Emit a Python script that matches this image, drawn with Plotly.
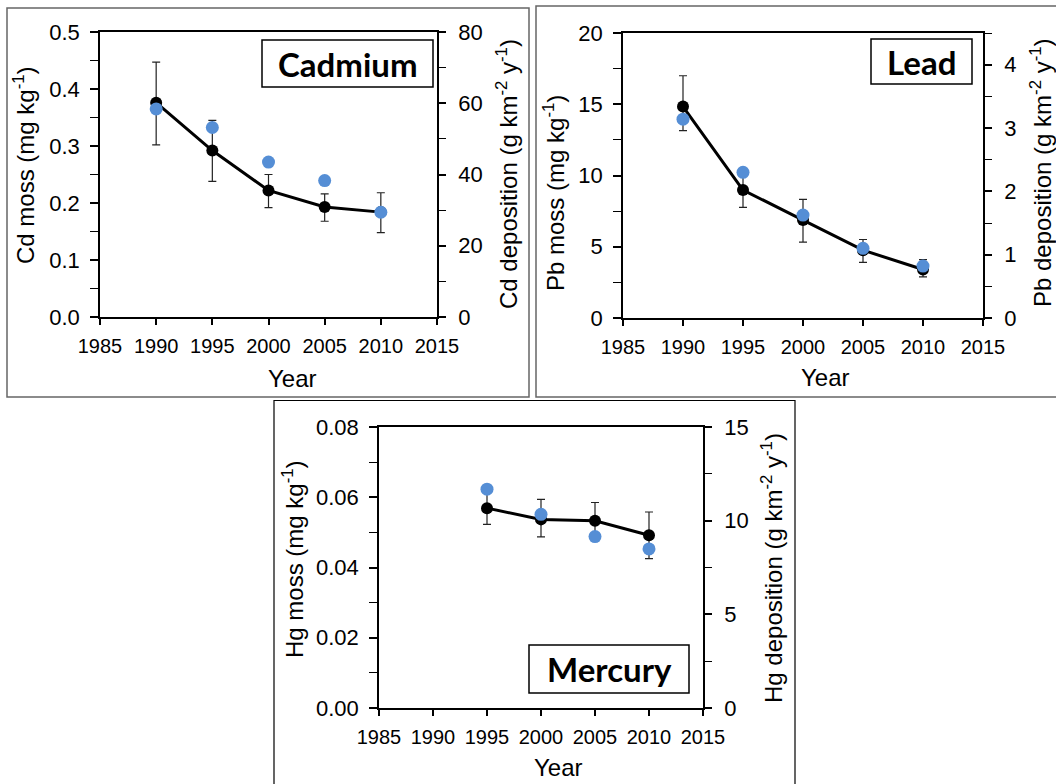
import plotly.graph_objects as go

# ---------------- data ----------------
years_5 = [1990, 1995, 2000, 2005, 2010]
years_4 = [1995, 2000, 2005, 2010]

cd_moss = [0.376, 0.292, 0.222, 0.193, 0.184]
cd_moss_err_up = [0.071, 0.053, 0.028, 0.023, 0.034]
cd_moss_err_dn = [0.074, 0.054, 0.030, 0.025, 0.036]
cd_dep = [58.4, 53.2, 43.5, 38.3, 29.4]

pb_moss = [14.84, 8.98, 6.87, 4.76, 3.40]
pb_moss_err_up = [2.16, 1.20, 1.46, 0.75, 0.70]
pb_moss_err_dn = [1.69, 1.22, 1.55, 0.86, 0.52]
pb_dep = [3.14, 2.30, 1.625, 1.10, 0.82]

hg_moss = [0.0569, 0.0537, 0.0533, 0.0492]
hg_moss_err_up = [0.0046, 0.0057, 0.0052, 0.0066]
hg_moss_err_dn = [0.0046, 0.0050, 0.0045, 0.0067]
hg_dep = [11.68, 10.34, 9.15, 8.49]

x_ticks = [1985, 1990, 1995, 2000, 2005, 2010, 2015]

W, H = 1056, 784
def px(x):
    return x / W
def py(y):
    return 1 - y / H

FONT = "Liberation Sans, Arial, sans-serif"
BLUE = "#558ED5"

fig = go.Figure()

panels = [
    dict(name="Cd", years=years_5, moss=cd_moss, up=cd_moss_err_up, dn=cd_moss_err_dn, dep=cd_dep,
         plot=(100, 437, 32, 317), yl=(0, 0.5, 0.1, 0.05, ".1f"), yr=(0, 80, 20, 10),
         ltitle="Cd moss (mg kg<sup>-1</sup>)", rtitle="Cd deposition (g km<sup>-2</sup> y<sup>-1</sup>)",
         ltx=24, lty=165, rtx=507, rty=174, yearx=292, yeary=378,
         label="Cadmium", box=(262, 433, 40, 87)),
    dict(name="Pb", years=years_5, moss=pb_moss, up=pb_moss_err_up, dn=pb_moss_err_dn, dep=pb_dep,
         plot=(623, 983, 33, 318), yl=(0, 20, 5, 2.5, "d"), yr=(0, 4.5, 1, 0.5),
         ltitle="Pb moss (mg kg<sup>-1</sup>)", rtitle="Pb deposition (g km<sup>-2</sup> y<sup>-1</sup>)",
         ltx=554, lty=193, rtx=1041, rty=173, yearx=825, yeary=377,
         label="Lead", box=(871, 972, 39, 84)),
    dict(name="Hg", years=years_4, moss=hg_moss, up=hg_moss_err_up, dn=hg_moss_err_dn, dep=hg_dep,
         plot=(379, 703, 427, 708), yl=(0, 0.08, 0.02, 0.01, ".2f"), yr=(0, 15, 5, 2.5),
         ltitle="Hg moss (mg kg<sup>-1</sup>)", rtitle="Hg deposition (g km<sup>-2</sup> y<sup>-1</sup>)",
         ltx=293, lty=559, rtx=772, rty=568, yearx=558, yeary=767,
         label="Mercury", box=(529, 689, 645, 693)),
]

annotations = []
shapes = []

# outer panel frames
shapes.append(dict(type="rect", xref="paper", yref="paper", x0=px(7), x1=px(529), y0=py(397), y1=py(8),
                   line=dict(color="#666666", width=1.5)))
shapes.append(dict(type="rect", xref="paper", yref="paper", x0=px(536), x1=px(1070), y0=py(397), y1=py(6),
                   line=dict(color="#666666", width=1.5)))
shapes.append(dict(type="rect", xref="paper", yref="paper", x0=px(274), x1=px(795), y0=py(800), y1=py(400.5),
                   line=dict(color="#000000", width=1.2)))

TICK_X = 20
TICK_Y = 22
TITLE = 24

layout_axes = {}
for i, p in enumerate(panels):
    xa = "x" if i == 0 else f"x{i+1}"
    ya_l = f"y{2*i+1}" if i > 0 else "y"
    ya_r = f"y{2*i+2}"
    xkey = "xaxis" if i == 0 else f"xaxis{i+1}"
    ylkey = "yaxis" if i == 0 else f"yaxis{2*i+1}"
    yrkey = f"yaxis{2*i+2}"
    x0, x1, y0, y1 = p["plot"]

    fig.add_trace(go.Scatter(
        x=p["years"], y=p["moss"], xaxis=xa, yaxis=ya_l, mode="lines+markers",
        line=dict(color="black", width=3),
        marker=dict(color="black", size=12),
        error_y=dict(type="data", array=p["up"], arrayminus=p["dn"], symmetric=False,
                     color="#222222", thickness=1.2, width=4),
        showlegend=False, cliponaxis=False))
    fig.add_trace(go.Scatter(
        x=p["years"], y=p["dep"], xaxis=xa, yaxis=ya_r, mode="markers",
        marker=dict(color=BLUE, size=13),
        showlegend=False, cliponaxis=False))

    layout_axes[xkey] = dict(
        domain=[px(x0), px(x1)], anchor=ya_l, range=[1985, 2015], automargin=False,
        tickmode="array", tickvals=x_ticks, ticktext=[str(t) for t in x_ticks],
        ticks="outside", ticklen=6, tickwidth=1.5, tickcolor="black",
        showline=True, linecolor="black", linewidth=1.5, mirror=True,
        showgrid=False, zeroline=False, fixedrange=True,
        tickfont=dict(family=FONT, size=TICK_X, color="black"), ticklabelstandoff=4)
    lo, hi, dt, mdt, fmt = p["yl"]
    layout_axes[ylkey] = dict(
        domain=[py(y1), py(y0)], anchor=xa, range=[lo, hi], dtick=dt, tick0=0, automargin=False,
        tickformat=fmt, ticks="outside", ticklen=8, tickwidth=1.5, tickcolor="black",
        minor=dict(ticks="outside", ticklen=8, tickwidth=1.2, tickcolor="black", dtick=mdt, tick0=0, showgrid=False),
        showline=True, linecolor="black", linewidth=1.5,
        showgrid=False, zeroline=False, fixedrange=True,
        tickfont=dict(family=FONT, size=TICK_Y, color="black"), ticklabelstandoff=6)
    rlo, rhi, rdt, rmdt = p["yr"]
    layout_axes[yrkey] = dict(
        overlaying=ya_l, side="right", anchor=xa, range=[rlo, rhi], dtick=rdt, tick0=0, automargin=False,
        ticks="outside", ticklen=7, tickwidth=1.5, tickcolor="black",
        minor=dict(ticks="outside", ticklen=7, tickwidth=1.2, tickcolor="black", dtick=rmdt, tick0=0, showgrid=False),
        showline=True, linecolor="black", linewidth=1.5,
        showgrid=False, zeroline=False, fixedrange=True,
        tickfont=dict(family=FONT, size=TICK_Y, color="black"), ticklabelstandoff=8)

    # axis titles
    annotations.append(dict(xref="paper", yref="paper", x=px(p["ltx"]), y=py(p["lty"]),
                            text=p["ltitle"], textangle=-90, showarrow=False,
                            xanchor="center", yanchor="middle",
                            font=dict(family=FONT, size=TITLE, color="black")))
    annotations.append(dict(xref="paper", yref="paper", x=px(p["rtx"]), y=py(p["rty"]),
                            text=p["rtitle"], textangle=-90, showarrow=False,
                            xanchor="center", yanchor="middle",
                            font=dict(family=FONT, size=TITLE, color="black")))
    annotations.append(dict(xref="paper", yref="paper", x=px(p["yearx"]), y=py(p["yeary"]),
                            text="Year", showarrow=False, xanchor="center", yanchor="middle",
                            font=dict(family=FONT, size=TITLE, color="black")))
    # element label box
    bx0, bx1, by0, by1 = p["box"]
    shapes.append(dict(type="rect", xref="paper", yref="paper", x0=px(bx0), x1=px(bx1),
                       y0=py(by1), y1=py(by0), line=dict(color="black", width=1.5),
                       fillcolor="white", layer="above"))
    annotations.append(dict(xref="paper", yref="paper", x=px((bx0 + bx1) / 2), y=py((by0 + by1) / 2),
                            text="<b>" + p["label"] + "</b>", showarrow=False,
                            xanchor="center", yanchor="middle",
                            font=dict(family="Lato, Open Sans, sans-serif", size=33, color="black")))

fig.update_layout(
    width=W, height=H, autosize=False,
    margin=dict(l=0, r=0, t=0, b=0, autoexpand=False),
    paper_bgcolor="white", plot_bgcolor="white",
    showlegend=False,
    annotations=annotations, shapes=shapes,
    **layout_axes)

fig.write_html("out.html", config={"displayModeBar": False},
               post_script="document.body.style.margin='0px';document.body.style.overflow='hidden';")
